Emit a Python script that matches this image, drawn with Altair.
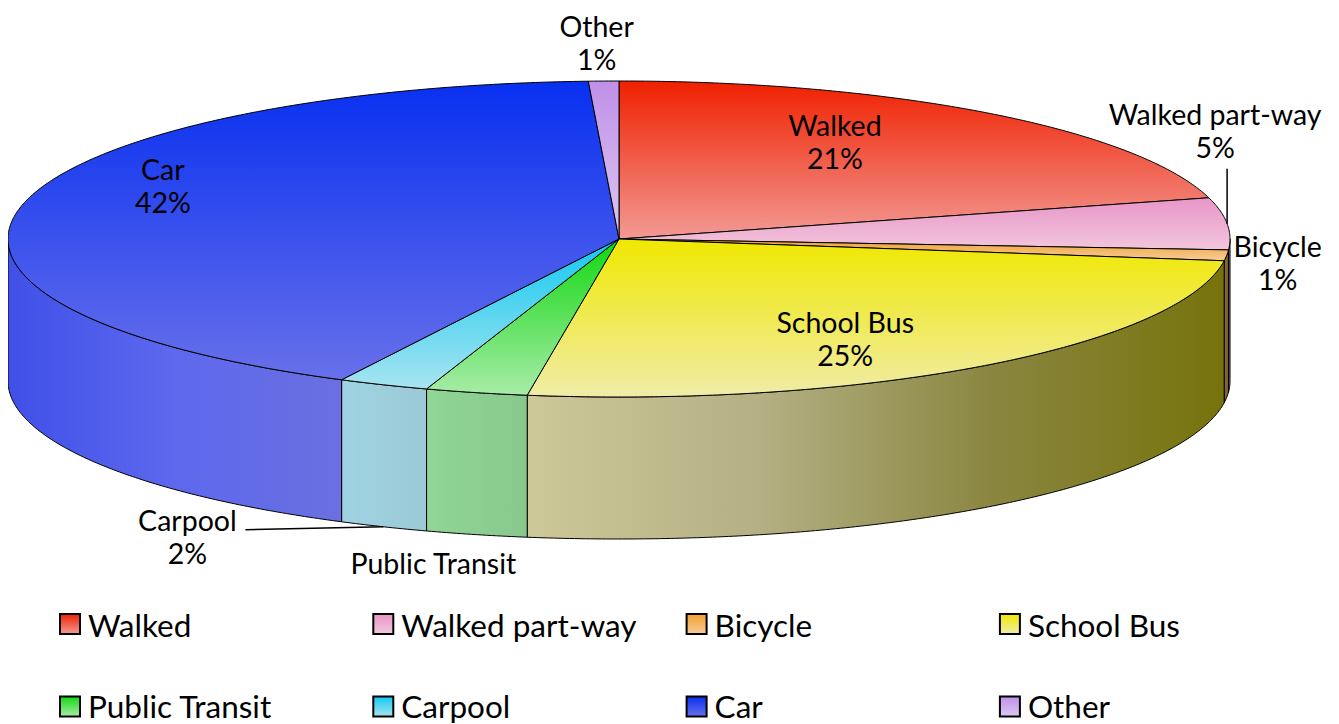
import altair as alt
import numpy as np
import pandas as pd

# ---------------- data ----------------
categories = ["Walked", "Walked part-way", "Bicycle", "School Bus",
              "Public Transit", "Carpool", "Car", "Other"]
shares = [20.8, 5.3, 1.1, 25.2, 2.7, 2.4, 41.7, 0.8]
show_pct = [True, True, True, True, False, True, True, True]

# ---------------- styles ----------------
top_colors = [["#f02000", "#f29a94"], ["#e896c8", "#f2c6dc"], ["#f0a030", "#f8cc98"],
              ["#f0e800", "#f0eca8"], ["#10d810", "#a8eca8"], ["#10c8f0", "#a8e4f0"],
              ["#0830f0", "#6870ea"], ["#c090e8", "#dcc8f2"]]
side_colors = [["#c07060", "#806040"], ["#9a8aa0", "#8a7a90"], ["#8a6a3c", "#7a5a30"],
               ["#ccc898", "#b4b084", "#8a8640", "#76730c"], ["#90d696", "#88c88c"],
               ["#9ed2e2", "#9ccad6"], ["#4050e8", "#5d68ee", "#6a70e0"], ["#b0a0c0", "#a090b0"]]

# ---------------- layout ----------------
CX, CY, RX, RY, DEPTH = 619, 239, 611, 158, 142
label_rf = [0.6, 1, 1, 0.6, 1, 1, 0.75, 1]
label_nudge = [(-7, -20), (-12, -91), (51, 9), (7, 26), (-43, 172), (-196, 154), (-8, -27), (-7, -37)]
leader = {1: ((0, -55), 0), 5: ((-138, 3), 1)}
FONT = "Lato"
LABEL_SIZE, LINE_H, LEGEND_SIZE = 28.5, 33, 31.5
W, H = 1323, 716

xs = alt.Scale(domain=[8, 8 + W], nice=False, zero=False)
ys = alt.Scale(domain=[8, 8 + H], nice=False, zero=False, reverse=True)
X = lambda f="x:Q": alt.X(f, scale=xs, axis=None)
Y = lambda f="y:Q": alt.Y(f, scale=ys, axis=None)


def ex(t, r=1.0):
    return CX + r * RX * np.sin(np.radians(t))


def ey(t, r=1.0):
    return CY - r * RY * np.cos(np.radians(t))


def grad(colors, horizontal):
    n = len(colors)
    stops = [alt.GradientStop(color=c, offset=j / (n - 1)) for j, c in enumerate(colors)]
    if horizontal:
        return alt.Gradient(gradient="linear", x1=0, y1=0, x2=1, y2=0, stops=stops)
    return alt.Gradient(gradient="linear", x1=0, y1=0, x2=0, y2=1, stops=stops)


cum = np.concatenate([[0], np.cumsum(shares)])
starts = cum[:-1] / cum[-1] * 360
ends = cum[1:] / cum[-1] * 360

side_layers, top_layers, legend_layers = [], [], []
for i, cat in enumerate(categories):
    a, b = starts[i], ends[i]
    # side wall (front half only) as closed polygon
    sa, sb = max(a, 90), min(b, 270)
    if sb > sa:
        ts = np.linspace(sa, sb, max(3, int((sb - sa) * 2) + 2))
        px = np.concatenate([ex(ts), ex(ts[::-1]), [ex(ts[0])]])
        py = np.concatenate([ey(ts), ey(ts[::-1]) + DEPTH, [ey(ts[0])]])
        sdf = pd.DataFrame({"x": px, "y": py, "k": np.arange(len(px))})
        side_layers.append(
            alt.Chart(sdf).mark_line(fill=grad(side_colors[i], True), stroke="black",
                                     strokeWidth=1, strokeJoin="round")
            .encode(x=X(), y=Y(), order=alt.Order("k:Q"))
        )
    # top wedge
    ts = np.linspace(a, b, max(3, int((b - a) * 2) + 2))
    tdf = pd.DataFrame({"x": np.concatenate([[CX], ex(ts), [CX]]),
                        "y": np.concatenate([[CY], ey(ts), [CY]])})
    tdf["k"] = np.arange(len(tdf))
    top_layers.append(
        alt.Chart(tdf).mark_line(fill=grad(top_colors[i], False), stroke="black", strokeWidth=1,
                                 strokeJoin="round")
        .encode(x=X(), y=Y(), order=alt.Order("k:Q"))
    )
    # legend swatch
    col, row = i % 4, i // 4
    lx = 60 + col * 313.3
    ly = 614 + row * 82.5
    ldf = pd.DataFrame({"x": [lx], "x2": [lx + 20], "y": [ly], "y2": [ly + 20]})
    legend_layers.append(
        alt.Chart(ldf).mark_rect(fill=grad(top_colors[i], False), stroke="black", strokeWidth=2)
        .encode(x=X(), x2="x2:Q", y=Y(), y2="y2:Q")
    )

# slice labels
lab_rows = []
for i, cat in enumerate(categories):
    m = (starts[i] + ends[i]) / 2
    lines = 2 if show_pct[i] else 1
    txt = cat + ("\n" + f"{round(shares[i])}%" if show_pct[i] else "")
    lab_rows.append({"x": ex(m, label_rf[i]) + label_nudge[i][0],
                     "y": ey(m, label_rf[i]) + label_nudge[i][1] - (lines - 1) * LINE_H / 2,
                     "t": txt})
labels = alt.Chart(pd.DataFrame(lab_rows)).mark_text(
    font=FONT, fontSize=LABEL_SIZE, lineBreak="\n", lineHeight=LINE_H,
    align="center", baseline="middle", color="black").encode(x=X(), y=Y(), text="t:N")

# leader lines
lead_rows = []
for i, ((dx, dy), use_depth) in leader.items():
    m = (starts[i] + ends[i]) / 2
    px, py = ex(m), ey(m) + use_depth * DEPTH
    lead_rows.append({"x": px + dx, "y": py + dy, "x2": px, "y2": py})
leaders = alt.Chart(pd.DataFrame(lead_rows)).mark_rule(color="black", strokeWidth=1.5).encode(
    x=X(), y=Y(), x2="x2:Q", y2="y2:Q")

# legend text
leg_df = pd.DataFrame({"t": categories,
                       "x": [60 + (i % 4) * 313.3 + 28 for i in range(len(categories))],
                       "y": [637 + (i // 4) * 81 for i in range(len(categories))]})
leg_text = alt.Chart(leg_df).mark_text(font=FONT, fontSize=LEGEND_SIZE, align="left",
                                       baseline="alphabetic", color="black").encode(
    x=X(), y=Y(), text="t:N")

chart = alt.layer(*side_layers, *top_layers, leaders, labels, *legend_layers, leg_text).properties(
    width=W, height=H, padding=0, autosize="none"
).configure_view(stroke=None)

chart.save("out.html", embed_options={"renderer": "svg", "actions": False})
